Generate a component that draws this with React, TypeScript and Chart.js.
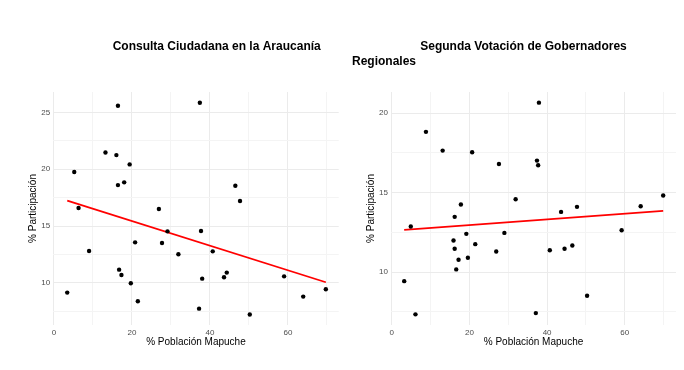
import React, { useEffect, useRef } from "react";
import { Chart, registerables } from "chart.js";

Chart.register(...registerables);

// Left panel: Consulta Ciudadana
const pobMapucheConsulta = [3.4, 5.2, 6.3, 9.0, 13.2, 16.0, 16.4, 16.4, 16.7, 17.3, 18.0, 19.4, 19.7, 20.8, 21.5, 26.9, 27.7, 29.1, 31.9, 37.2, 37.4, 37.7, 38.0, 40.7, 43.6, 44.3, 46.5, 47.7, 50.2, 59.0, 63.9, 69.7];
const partConsulta = [9.15, 19.76, 16.59, 12.81, 21.48, 21.25, 25.59, 18.61, 11.17, 10.7, 18.85, 20.43, 9.97, 13.57, 8.39, 16.5, 13.51, 14.54, 12.52, 7.74, 25.85, 14.57, 10.38, 12.78, 10.5, 10.91, 18.55, 17.21, 7.22, 10.58, 8.8, 9.44];
const trendConsultaX = [3.4, 69.7];
const trendConsultaY = [17.24, 10.06];

// Right panel: Segunda votación GORE
const pobMapucheGore = [3.2, 4.9, 6.1, 8.8, 13.1, 15.9, 16.2, 16.2, 16.6, 17.2, 17.8, 19.2, 19.6, 20.7, 21.5, 26.9, 27.6, 29.0, 31.9, 37.1, 37.4, 37.7, 37.9, 40.7, 43.6, 44.5, 46.5, 47.7, 50.3, 59.2, 64.1, 69.9];
const partGore = [9.43, 12.87, 7.34, 18.83, 17.65, 11.99, 13.48, 11.47, 10.17, 10.78, 14.26, 12.41, 10.9, 17.55, 11.76, 11.3, 16.81, 12.47, 14.59, 7.42, 17.02, 16.73, 20.67, 11.38, 13.79, 11.47, 11.68, 14.11, 8.51, 12.64, 14.15, 14.82];
const trendGoreX = [3.2, 69.9];
const trendGoreY = [12.66, 13.86];

const xTitle = "% Población Mapuche";
const yTitle = "% Participación";
const titleLeft = ["Consulta Ciudadana en la Araucanía"];
const titleRight = ["Segunda Votación de Gobernadores", "Regionales"];

const FONT = "'Liberation Sans', Arial, Helvetica, sans-serif";
const MAJOR = "#EBEBEB";
const MINOR = "#F4F4F4";

type TitleLine = { text: string; x: number; y: number; align: CanvasTextAlign };

function titlePlugin(lines: TitleLine[]) {
  return {
    id: "customTitles",
    afterDraw(chart: any) {
      const ctx = chart.ctx;
      ctx.save();
      ctx.font = `bold 12px ${FONT}`;
      ctx.fillStyle = "#000000";
      ctx.textBaseline = "middle";
      for (const l of lines) {
        ctx.textAlign = l.align;
        ctx.fillText(l.text, l.x, l.y);
      }
      ctx.restore();
    },
  };
}

interface PanelProps {
  xs: number[];
  ys: number[];
  tx: number[];
  ty: number[];
  xMin: number;
  xMax: number;
  yMin: number;
  yMax: number;
  padLeft: number;
  padRight: number;
  yWidth: number;
  titles: TitleLine[];
}

function Panel(p: PanelProps) {
  const ref = useRef<HTMLCanvasElement | null>(null);
  useEffect(() => {
    if (!ref.current) return;
    const pts = p.xs.map((x, i) => ({ x, y: p.ys[i] }));
    const trend = p.tx.map((x, i) => ({ x, y: p.ty[i] }));
    const chart = new Chart(ref.current, {
      type: "scatter",
      data: {
        datasets: [
          {
            data: pts,
            backgroundColor: "#000000",
            borderColor: "#000000",
            pointRadius: 2.2,
            pointHoverRadius: 2.2,
            borderWidth: 0,
          },
          {
            data: trend,
            showLine: true,
            borderColor: "#FF0000",
            borderWidth: 1.8,
            pointRadius: 0,
            fill: false,
          } as any,
        ],
      },
      options: {
        responsive: false,
        animation: false,
        events: [],
        layout: { padding: { left: p.padLeft, right: p.padRight, top: 92, bottom: 17.5 } },
        plugins: { legend: { display: false }, tooltip: { enabled: false }, title: { display: false } },
        scales: {
          x: {
            type: "linear",
            min: p.xMin,
            max: p.xMax,
            afterFit: (s: any) => { s.height = 27.5; },
            border: { display: false },
            grid: {
              drawTicks: false,
              color: (c: any) => (c.tick && c.tick.value % 20 === 0 ? MAJOR : MINOR),
              lineWidth: 1,
            },
            ticks: {
              stepSize: 10,
              includeBounds: false,
              autoSkip: false,
              maxRotation: 0,
              padding: 3,
              color: "#4D4D4D",
              font: { family: FONT, size: 8 },
              callback: (v: any) => (Number(v) % 20 === 0 ? String(v) : ""),
            },
            title: { display: true, text: xTitle, color: "#000000", font: { family: FONT, size: 10 }, padding: { top: 4, bottom: 4 } },
          },
          y: {
            type: "linear",
            min: p.yMin,
            max: p.yMax,
            afterFit: (s: any) => { s.width = p.yWidth; },
            border: { display: false },
            grid: {
              drawTicks: false,
              color: (c: any) => (c.tick && c.tick.value % 5 === 0 ? MAJOR : MINOR),
              lineWidth: 1,
            },
            ticks: {
              stepSize: 2.5,
              includeBounds: false,
              autoSkip: false,
              padding: 3,
              color: "#4D4D4D",
              font: { family: FONT, size: 8 },
              callback: (v: any) => (Number(v) % 5 === 0 ? String(v) : ""),
            },
            title: { display: true, text: yTitle, color: "#000000", font: { family: FONT, size: 10 }, padding: { top: 4, bottom: 4 } },
          },
        },
      },
      plugins: [titlePlugin(p.titles)],
    } as any);
    return () => chart.destroy();
  }, []);
  return <canvas ref={ref} width={342} height={370} style={{ width: 342, height: 370, display: "block" }} />;
}

export default function App() {
  return (
    <div style={{ position: "fixed", left: 0, top: 0, width: 684, height: 370, display: "flex", background: "#ffffff" }}>
      <Panel
        xs={pobMapucheConsulta}
        ys={partConsulta}
        tx={trendConsultaX}
        ty={trendConsultaY}
        xMin={-0.2}
        xMax={73.0}
        yMin={6.3}
        yMax={26.8}
        padLeft={23.3}
        padRight={3.3}
        yWidth={29.9}
        titles={[{ text: titleLeft[0], x: 216.7, y: 47, align: "center" }]}
      />
      <Panel
        xs={pobMapucheGore}
        ys={partGore}
        tx={trendGoreX}
        ty={trendGoreY}
        xMin={-0.2}
        xMax={73.2}
        yMin={6.67}
        yMax={21.34}
        padLeft={19.7}
        padRight={8}
        yWidth={29.3}
        titles={[
          { text: titleRight[0], x: 181.5, y: 47, align: "center" },
          { text: titleRight[1], x: 10, y: 61.7, align: "left" },
        ]}
      />
    </div>
  );
}
